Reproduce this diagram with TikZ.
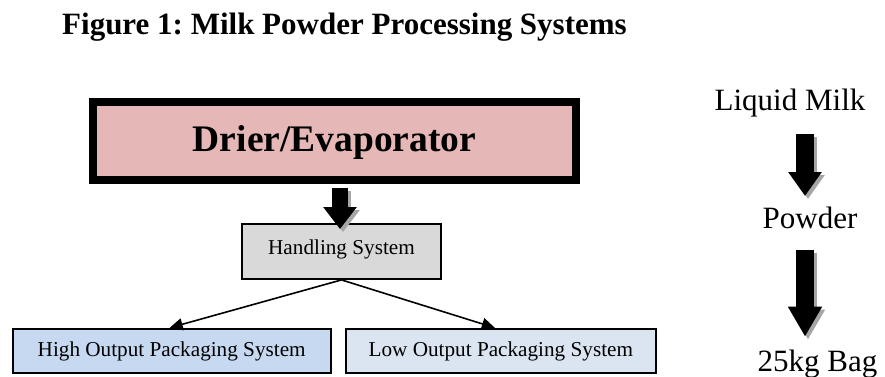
\documentclass[tikz,border=0pt]{standalone}
\usepackage{fontspec}
\setmainfont{Liberation Serif}
\usetikzlibrary{arrows.meta,calc}
\frenchspacing

\definecolor{drierpink}{HTML}{E5B8B7}
\definecolor{handlegray}{HTML}{D9D9D9}
\definecolor{highblue}{HTML}{C6D9F1}
\definecolor{lowblue}{HTML}{DBE5F1}
\definecolor{shadowgray}{HTML}{A6A6A6}

% thick block arrow with a soft grey drop shadow
\newcommand{\fatconn}[5]{%
  \draw[fatarrow={#1}{#2}{#3}, draw=shadowgray,
        transform canvas={xshift=3pt,yshift=-3pt}] #4 -- #5;
  \draw[fatarrow={#1}{#2}{#3}, draw=black] #4 -- #5;}

\begin{document}
\begin{tikzpicture}[x=1pt,y=-1pt,
  box/.style={draw=black, line width=1.8pt, inner sep=0pt, align=center,
              font=\fontsize{21.2}{24}\selectfont},
  label/.style={inner sep=0pt, anchor=base, font=\fontsize{31}{34}\selectfont},
  thinarrow/.style={line width=1.6pt, -{Triangle[length=13pt,width=12pt]}},
  fatarrow/.style n args={3}{line width=#1, -{Triangle[width=#2,length=#3]}}]

\useasboundingbox[fill=white] (0,0) rectangle (885,376);

% title
\node[inner sep=0pt, anchor=base west, font=\fontsize{31}{34}\selectfont\bfseries]
  (title) at (62,34) {Figure 1: Milk Powder Processing Systems};

% process blocks
\node[box, line width=8pt, fill=drierpink, minimum width=483, minimum height=78,
      text height=27pt, text depth=5.6pt, font=\fontsize{37.5}{40}\selectfont\bfseries]
  (drier) at (334.5,141) {Drier/Evaporator};
\node[box, fill=handlegray, minimum width=199, minimum height=55,
      text height=14pt, text depth=8.4pt]
  (hs) at (341.5,251.5) {Handling System};
\node[box, fill=highblue, minimum width=318, minimum height=44.3,
      text height=15pt, text depth=3.2pt]
  (hop) at (171.7,350.85) {High Output Packaging System};
\node[box, fill=lowblue, minimum width=309.7, minimum height=44.3,
      text height=15pt, text depth=3.2pt]
  (lop) at (500.85,350.85) {Low Output Packaging System};

% connectors
\fatconn{16pt}{32pt}{22pt}{($(drier.south -| hs.north)+(-1.5,4)$)}{($(hs.north)+(-1.5,6)$)}
\draw[thinarrow] (hs.south) -- ($(hop.north)+(-2,0)$);
\draw[thinarrow] (hs.south) -- ($(lop.north)+(-6,0)$);

% product states
\node[label] (milk) at (790,110.7) {Liquid Milk};
\node[label] (powder) at (810,228.3) {Powder};
\node[label] (bag) at (817.5,371) {25kg Bag};

\coordinate (m1) at (805,134);
\coordinate (m2) at (805,196);
\coordinate (m3) at (805,250);
\coordinate (m4) at (805,336.7);
\fatconn{18pt}{32pt}{24pt}{(m1)}{(m2)}
\fatconn{18pt}{32pt}{30pt}{(m3)}{(m4)}
\end{tikzpicture}
\end{document}
